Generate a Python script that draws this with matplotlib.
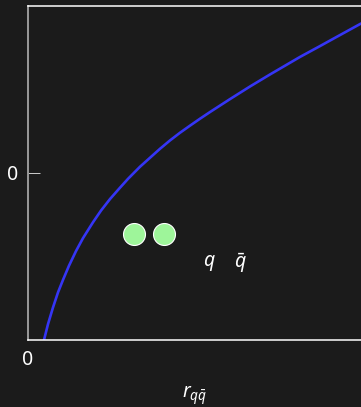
import matplotlib
matplotlib.use("Agg")
import matplotlib.pyplot as plt

plt.rcParams['font.family'] = ['Noto Sans', 'DejaVu Sans']
plt.rcParams['mathtext.fontset'] = 'custom'
plt.rcParams['mathtext.rm'] = 'Noto Sans'
plt.rcParams['mathtext.it'] = 'Noto Sans:italic'

# quark-antiquark potential V(r)
r_vals = [0.12, 0.16, 0.20, 0.25, 0.30, 0.35, 0.41, 0.48, 0.55, 0.65, 0.73, 0.82,
          0.92, 1.00, 1.12, 1.32, 1.42, 1.52, 1.62, 1.72, 1.82, 2.02, 2.22, 2.42,
          2.52, 2.72, 2.92, 3.12, 3.33]
v_vals = [-2.22, -2.00, -1.81, -1.61, -1.43, -1.28, -1.11, -0.935, -0.78, -0.59,
          -0.45, -0.312, -0.176, -0.07, 0.075, 0.29, 0.39, 0.482, 0.567, 0.65,
          0.73, 0.885, 1.036, 1.18, 1.25, 1.39, 1.52, 1.652, 1.79]

# the quark pair
pair_x = [1.06, 1.36]
pair_y = [-0.73, -0.73]
pair_labels = [r'$q$', r'$\bar{q}$']

x_ticks = [0]
y_ticks = [0]

bg = '#1b1b1b'
fig = plt.figure(figsize=(3.61, 4.07), dpi=100, facecolor=bg)
ax = fig.add_axes([28 / 361, 67 / 407, 333 / 361, 334 / 407], facecolor=bg)

ax.plot(r_vals, v_vals, color='#3535f5', lw=1.9, solid_capstyle='round',
        solid_joinstyle='round')
ax.scatter(pair_x, pair_y, s=250, color='#9ef59a', edgecolors='white',
           linewidths=0.8, zorder=3)
ax.text(1.81, -1.08, pair_labels[0], color='white', fontsize=14,
        ha='center', va='center')
ax.text(2.12, -1.08, pair_labels[1], color='white', fontsize=14,
        ha='center', va='center')

ax.set_xlim(0, 3.33)
ax.set_ylim(-2, 2)
ax.set_xticks(x_ticks)
ax.set_yticks(y_ticks)
ax.tick_params(axis='y', direction='in', length=8.5, width=0.7,
               color='#cccccc', labelcolor='white', labelsize=14, pad=7)
ax.tick_params(axis='x', direction='in', length=0, labelcolor='white',
               labelsize=14, pad=7)

ax.spines['right'].set_visible(False)
ax.spines['left'].set_color('#9a9a9a')
ax.spines['left'].set_linewidth(1.4)
ax.spines['top'].set_color('white')
ax.spines['top'].set_linewidth(1.1)
ax.spines['bottom'].set_color('white')
ax.spines['bottom'].set_linewidth(1.1)

ax.set_xlabel(r'$r_{q\bar{q}}$', color='white', fontsize=14, labelpad=10)

fig.savefig('out.png', dpi=100, facecolor=bg)
